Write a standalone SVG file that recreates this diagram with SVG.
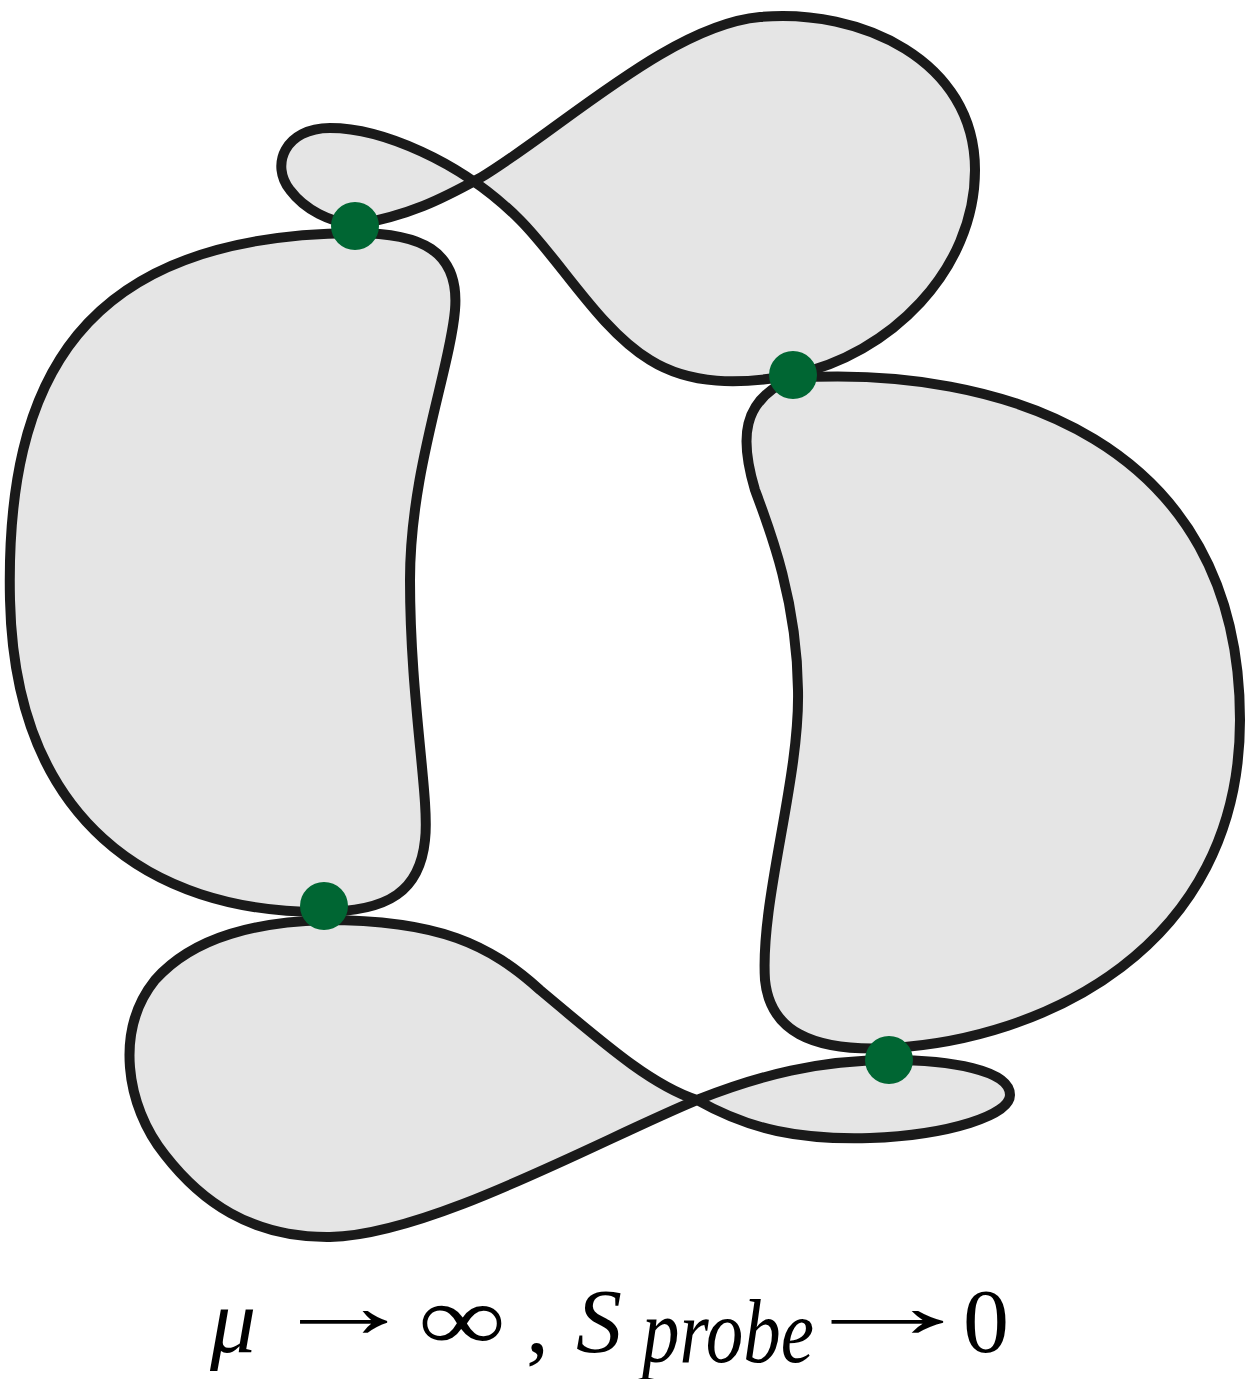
<svg xmlns="http://www.w3.org/2000/svg" width="1247" height="1379" viewBox="0 0 1247 1379">
<style>
.lobe{fill:#e5e5e5;stroke:#1a1a1a;stroke-width:10;stroke-linejoin:round}
.dot{fill:#006633}
.m{font-family:"Liberation Serif",serif;font-size:92px;fill:#000}
.i{font-style:italic}
</style>
<rect width="1247" height="1379" fill="#fff"/>
<g id="top-loop"><path class="lobe" d="M355,225 C410,215 440,200 480,178 C560,130 670,25 760,17 C860,8 975,60 975,170 C975,270 890,355 793,375 C740,385 690,385 650,360 C600,330 560,260 520,220 C460,160 380,128 330,128 C285,128 270,165 290,190 C305,210 330,222 355,225 Z"/></g>
<g id="left-lobe"><path class="lobe" d="M355,233 C420,233 460,250 455,310 C450,370 410,470 410,580 C410,700 430,800 425,840 C420,890 390,912 320,912 C150,912 15,820 10,600 C5,380 80,235 355,233 Z"/></g>
<g id="right-lobe"><path class="lobe" d="M793,378 C1000,365 1240,440 1240,720 C1240,950 1040,1040 890,1048 C810,1052 770,1030 765,980 C760,900 800,780 798,690 C797,600 770,530 755,490 C740,440 740,400 793,378 Z"/></g>
<g id="bottom-loop"><path class="lobe" d="M325,920 C440,920 490,945 540,990 C600,1040 650,1085 697,1100 C750,1130 800,1140 870,1138 C950,1135 1010,1115 1010,1095 C1010,1070 950,1060 890,1060 C820,1060 760,1075 697,1100 C600,1140 430,1235 330,1237 C250,1238 200,1200 165,1155 C125,1105 115,1030 155,980 C195,935 260,922 325,920 Z"/></g>
<g id="contacts">
<circle class="dot" cx="355" cy="226" r="24"/>
<circle class="dot" cx="793" cy="375" r="24"/>
<circle class="dot" cx="324" cy="906" r="24"/>
<circle class="dot" cx="889" cy="1060" r="24"/>
</g>
<g id="label">
<text class="m i" x="210" y="1352" font-size="100">μ</text>
<text class="m" transform="translate(270,1337) scale(1.6,1)" x="0" y="0" font-size="100">→</text>
<text class="m" x="418" y="1350" font-size="130" textLength="88" lengthAdjust="spacingAndGlyphs">∞</text>
<text class="m" x="526" y="1352">,</text>
<text class="m i" x="576" y="1352" font-size="96">S</text>
<text class="m i" x="642" y="1362" font-size="68" textLength="172" lengthAdjust="spacingAndGlyphs">probe</text>
<text class="m" transform="translate(793,1337) scale(2.05,1)" x="0" y="0" font-size="100">→</text>
<text class="m" x="963" y="1352" font-size="94">0</text>
</g>
</svg>
